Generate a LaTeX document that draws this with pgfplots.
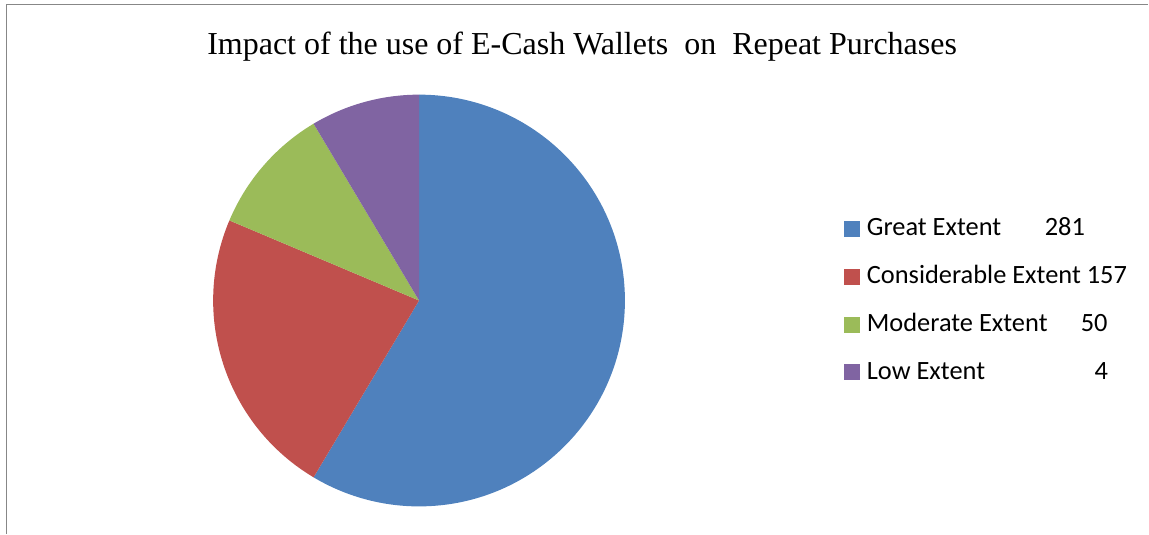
\documentclass[border=0pt]{standalone}
\usepackage{pgfplots}
\pgfplotsset{compat=1.18}
\usepackage{fontspec}
\setmainfont{Liberation Serif}
\newfontfamily\carlito{Carlito}
\definecolor{pieblue}{HTML}{4F81BD}
\definecolor{piered}{HTML}{C0504D}
\definecolor{piegreen}{HTML}{9BBB59}
\definecolor{piepurple}{HTML}{8064A2}
\definecolor{framegray}{HTML}{878787}
% slice shares (percent of the pie)
\def\vA{58.56}\def\vB{22.80}\def\vC{10.08}\def\vD{8.56}
\pgfmathsetmacro\aA{90}
\pgfmathsetmacro\aB{\aA-3.6*\vA}
\pgfmathsetmacro\aC{\aB-3.6*\vB}
\pgfmathsetmacro\aD{\aC-3.6*\vC}
\pgfmathsetmacro\aE{\aD-3.6*\vD}
\def\R{103pt}
\begin{document}
\begin{tikzpicture}
\begin{axis}[
  scale only axis, width=574.5pt, height=267pt,
  xmin=0, xmax=1149, ymin=0, ymax=534, y dir=reverse,
  hide axis, clip=false,
]
\path (axis cs:0,0) rectangle (axis cs:1149,534);
\draw[framegray, line width=0.7pt] (axis cs:6.5,534) -- (axis cs:6.5,4.5) -- (axis cs:1149,4.5);
\node[anchor=base, inner sep=0pt, font=\fontsize{16}{19}\selectfont] at (axis cs:582.5,54.3)
  {Impact of the use of E-Cash Wallets\ \ on\ \ Repeat Purchases};
% pie
\fill[pieblue] (axis cs:419.3,300.7) -- ++(\aA:\R) arc[start angle=\aA, end angle=\aB, radius=\R] -- cycle;
\fill[piered] (axis cs:419.3,300.7) -- ++(\aB:\R) arc[start angle=\aB, end angle=\aC, radius=\R] -- cycle;
\fill[piegreen] (axis cs:419.3,300.7) -- ++(\aC:\R) arc[start angle=\aC, end angle=\aD, radius=\R] -- cycle;
\fill[piepurple] (axis cs:419.3,300.7) -- ++(\aD:\R) arc[start angle=\aD, end angle=\aE, radius=\R] -- cycle;
% legend
\fill[pieblue] (axis cs:845,220.7) rectangle (axis cs:861,236.7);
\fill[piered] (axis cs:845,268.7) rectangle (axis cs:861,284.7);
\fill[piegreen] (axis cs:845,316.7) rectangle (axis cs:861,332.7);
\fill[piepurple] (axis cs:845,364.7) rectangle (axis cs:861,380.7);
\begin{scope}[every node/.style={anchor=base west, inner sep=0pt, font=\carlito\fontsize{13.2}{15}\selectfont}]
\node at (axis cs:867,236) {\makebox[89pt][l]{Great Extent}281};
\node at (axis cs:867,284) {Considerable Extent 157};
\node at (axis cs:867,332) {\makebox[107pt][l]{Moderate Extent}50};
\node at (axis cs:867,380) {\makebox[114pt][l]{Low Extent}4};
\end{scope}
\end{axis}
\end{tikzpicture}
\end{document}
